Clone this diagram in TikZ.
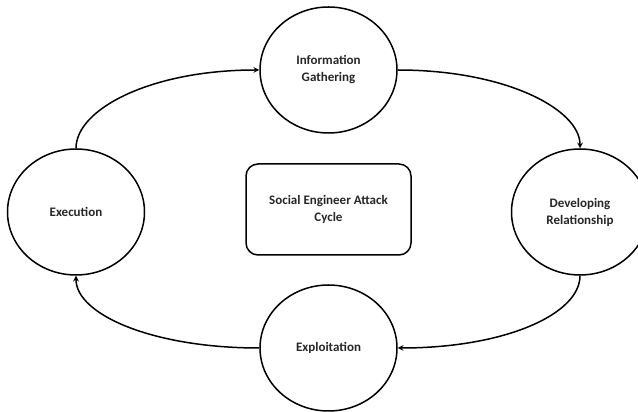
\documentclass[tikz,border=0pt]{standalone}
\usepackage{fontspec}
\setmainfont{Carlito}
\usetikzlibrary{shapes.geometric}
\tikzstyle{cn}=[shape=ellipse,draw,line width=1.5pt,minimum width=137pt,minimum height=126pt,inner sep=0pt,align=center,font=\fontsize{13}{17}\selectfont\bfseries,text=black!85]
\tikzstyle{bx}=[shape=rectangle,draw,rounded corners=12pt,line width=1.5pt,minimum width=165pt,minimum height=91pt,align=center,font=\fontsize{13}{17}\selectfont\bfseries,text=black!85]
\tikzstyle{fwd}=[->,>=stealth,line width=1.5pt]
\tikzstyle{bwd}=[<-,>=stealth,line width=1.5pt]

\begin{document}
\begin{tikzpicture}[x=1pt,y=1pt]
            \useasboundingbox (0,0) rectangle (638,412);
            \node[cn] (Info) at (328.5, 342) {Information\\Gathering}
            ;
            \node[cn] (Dev) at (580, 200) {Developing\\Relationship}
                edge[bwd, out=90, in=0, out looseness=0.5, in looseness=1.4] (Info)
            ;
            \node[cn] (Expl) at (328.5, 64) {Exploitation}
                edge[bwd, out=0, in=-90, out looseness=1.4, in looseness=0.5] (Dev)
            ;
            \node[cn] (Exec) at (76, 200) {Execution}
                edge[bwd, out=-90, in=180, out looseness=0.5, in looseness=1.4] (Expl)
                edge[fwd, out=90, in=180, out looseness=0.5, in looseness=1.4] (Info)
            ;
            \node[bx] (Cycle) at (328.5, 202.5) {Social Engineer Attack\\Cycle}
            ;
        \end{tikzpicture}
\end{document}
